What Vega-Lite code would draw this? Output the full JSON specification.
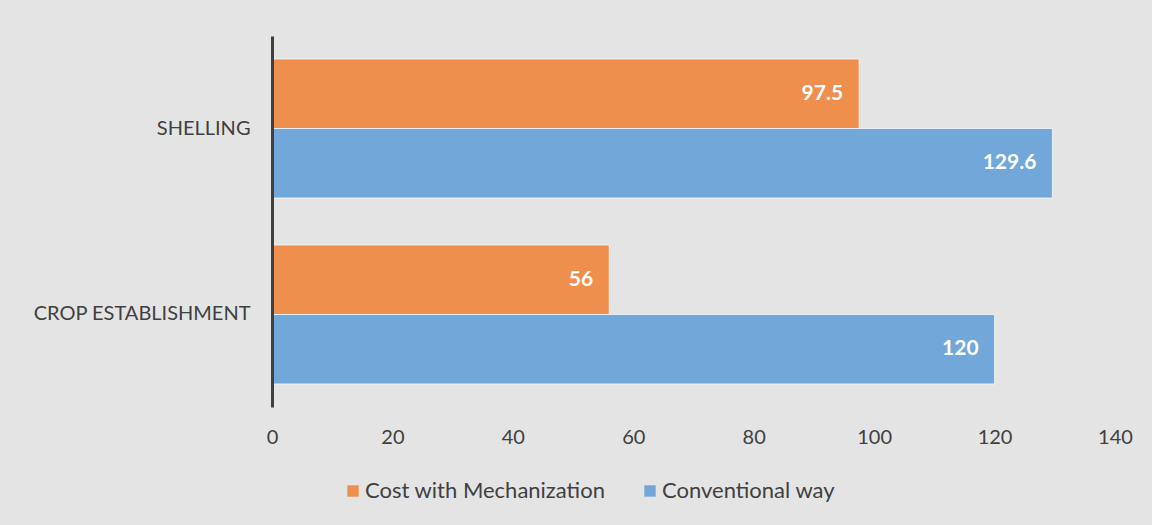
{
  "$schema": "https://vega.github.io/schema/vega-lite/v6.json",
  "width": 843,
  "height": 371,
  "autosize": {"type": "none"},
  "padding": {"left": 272, "top": 36, "right": 37, "bottom": 118},
  "background": "#e4e4e4",
  "config": {
    "view": {"stroke": null},
    "font": "Lato",
    "axis": {"labelFont": "Lato", "labelColor": "#404040", "labelFontSize": 20, "labelLimit": 400}
  },
  "data": {
    "values": [
      {"task": "SHELLING", "series": "Cost with Mechanization", "value": 97.5},
      {"task": "SHELLING", "series": "Conventional way", "value": 129.6},
      {"task": "CROP ESTABLISHMENT", "series": "Cost with Mechanization", "value": 56},
      {"task": "CROP ESTABLISHMENT", "series": "Conventional way", "value": 120}
    ]
  },
  "encoding": {
    "y": {
      "field": "task",
      "type": "nominal",
      "sort": ["SHELLING", "CROP ESTABLISHMENT"],
      "scale": {"paddingInner": 0.253, "paddingOuter": 0.124},
      "axis": {
        "title": null,
        "domainColor": "#404040",
        "domainWidth": 3,
        "ticks": false,
        "labelPadding": 22,
        "zindex": 2
      }
    },
    "yOffset": {
      "field": "series",
      "type": "nominal",
      "sort": ["Cost with Mechanization", "Conventional way"]
    },
    "x": {
      "field": "value",
      "type": "quantitative",
      "scale": {"domain": [0, 140]},
      "axis": {
        "title": null,
        "domain": false,
        "ticks": false,
        "grid": false,
        "labelFlush": false,
        "values": [0, 20, 40, 60, 80, 100, 120, 140],
        "labelPadding": 20
      }
    }
  },
  "layer": [
    {
      "mark": {"type": "bar", "stroke": "#ffffff", "strokeWidth": 1, "strokeOpacity": 0.7},
      "encoding": {
        "color": {
          "field": "series",
          "type": "nominal",
          "sort": ["Cost with Mechanization", "Conventional way"],
          "scale": {"range": ["#EE8F4E", "#71A7D9"]},
          "legend": {
            "title": null,
            "orient": "none",
            "direction": "horizontal",
            "legendX": 70,
            "legendY": 444,
            "symbolType": "square",
            "symbolSize": 130,
            "symbolStrokeWidth": 0,
            "labelFontSize": 22,
            "labelFont": "Lato",
            "labelColor": "#404040",
            "labelLimit": 400,
            "columnPadding": 33,
            "labelOffset": 1
          }
        }
      }
    },
    {
      "mark": {"type": "text", "align": "right", "dx": -16, "color": "white", "fontWeight": "bold", "fontSize": 21, "font": "Lato"},
      "encoding": {"text": {"field": "value", "type": "quantitative"}}
    }
  ]
}
